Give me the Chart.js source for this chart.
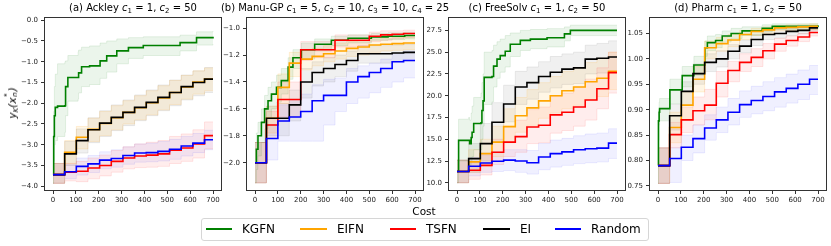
<!DOCTYPE html>
<html><head><meta charset="utf-8">
<script src="https://cdn.jsdelivr.net/npm/chart.js@4.4.1/dist/chart.umd.min.js"></script>
<style>
html,body{margin:0;padding:0;background:#fff;}
#wrap{position:relative;width:831px;height:246px;overflow:hidden;font-family:'DejaVu Sans',sans-serif;color:#000;}
canvas{position:absolute;}
.title{position:absolute;top:2px;font-size:10px;white-space:nowrap;transform:translateX(-50%);line-height:12px;}
.title sub,.ylab sub{font-size:7px;vertical-align:-2px;line-height:0;}
.ylab{position:absolute;left:12px;top:103px;transform:translate(-50%,-50%) rotate(-90deg);font-size:10.5px;font-style:italic;white-space:nowrap;line-height:12px;}
.ylab .ss{display:inline-block;position:relative;width:6px;height:10px;vertical-align:baseline;}
.ylab .ss span{position:absolute;left:0.5px;font-size:7px;line-height:7px;}
.xlab{position:absolute;left:424px;top:205px;transform:translateX(-50%);font-size:10.5px;line-height:12px;}
#legend{position:absolute;left:201px;top:218px;width:446px;height:21px;border:1px solid #d6d6d6;border-radius:3px;background:#fff;}
.sw{position:absolute;height:2px;top:228px;}
.lt{position:absolute;top:222px;font-size:12px;line-height:14px;}
</style></head>
<body>
<div id="wrap">
<canvas id="c0" width="222" height="199"></canvas>
<canvas id="c1" width="222" height="199"></canvas>
<canvas id="c2" width="222" height="199"></canvas>
<canvas id="c3" width="222" height="199"></canvas>
<div class="title" style="left:133px">(a) Ackley <i>c</i><sub>1</sub> = 1, <i>c</i><sub>2</sub> = 50</div>
<div class="title" style="left:335px">(b) Manu-GP <i>c</i><sub>1</sub> = 5, <i>c</i><sub>2</sub> = 10, <i>c</i><sub>3</sub> = 10, <i>c</i><sub>4</sub> = 25</div>
<div class="title" style="left:537px">(c) FreeSolv <i>c</i><sub>1</sub> = 1, <i>c</i><sub>2</sub> = 50</div>
<div class="title" style="left:738px">(d) Pharm <i>c</i><sub>1</sub> = 1, <i>c</i><sub>2</sub> = 50</div>
<div class="ylab">y<sub>K</sub>(x<span class="ss"><span style="top:-2px">*</span><span style="top:6px">n</span></span>)</div>
<div class="xlab">Cost</div>
<div id="legend"></div>
<div class="sw" style="left:206px;width:26px;background:green"></div><div class="lt" style="left:242px">KGFN</div>
<div class="sw" style="left:300px;width:27px;background:orange"></div><div class="lt" style="left:337px">EIFN</div>
<div class="sw" style="left:390px;width:26px;background:red"></div><div class="lt" style="left:426px">TSFN</div>
<div class="sw" style="left:483px;width:27px;background:black"></div><div class="lt" style="left:520px">EI</div>
<div class="sw" style="left:555px;width:26px;background:blue"></div><div class="lt" style="left:591px">Random</div>
</div>
<script>
// ---------- shared cost grids ----------
const COST_51 = [0,51,102,153,204,255,306,357,408,459,510,561,612,663,700];
const COST_50 = [0,50,100,150,200,250,300,350,400,450,500,550,600,650,700];
const X_TICKS = [0,100,200,300,400,500,600,700];

// ---------- (a) Ackley ----------
const ACK_KGFN_X  = [0,3,6,10,20,52,55,65,110,112,125,160,206,235,279,330,395,556,628,700];
const ACK_KGFN    = [-3.72,-2.8,-2.3,-2.1,-2.07,-2.06,-1.6,-1.38,-1.38,-1.27,-1.12,-1.1,-0.98,-0.86,-0.74,-0.66,-0.61,-0.54,-0.42,-0.40];
const ACK_KGFN_HI = [-3.45,-2.2,-1.6,-1.3,-1.05,-1.0,-0.98,-0.85,-0.76,-0.72,-0.65,-0.62,-0.55,-0.5,-0.45,-0.42,-0.4,-0.36,-0.28,-0.26];
const ACK_KGFN_LO = [-3.93,-3.4,-3.0,-2.9,-2.8,-2.7,-2.3,-1.95,-1.9,-1.75,-1.6,-1.55,-1.4,-1.25,-1.05,-0.92,-0.85,-0.74,-0.6,-0.58];
const ACK_EIFN    = [-3.72,-3.18,-2.82,-2.63,-2.49,-2.35,-2.22,-2.11,-1.99,-1.87,-1.74,-1.61,-1.49,-1.42,-1.42];
const ACK_EIFN_HI = [-3.45,-2.90,-2.56,-2.36,-2.20,-2.06,-1.94,-1.82,-1.70,-1.58,-1.45,-1.33,-1.22,-1.15,-1.15];
const ACK_EIFN_LO = [-3.93,-3.46,-3.10,-2.92,-2.78,-2.64,-2.50,-2.40,-2.28,-2.16,-2.03,-1.90,-1.78,-1.70,-1.70];
const ACK_TSFN    = [-3.72,-3.66,-3.64,-3.56,-3.50,-3.40,-3.32,-3.27,-3.25,-3.22,-3.13,-3.08,-2.98,-2.78,-2.78];
const ACK_TSFN_HI = [-3.45,-3.45,-3.40,-3.32,-3.25,-3.14,-3.05,-2.98,-2.94,-2.90,-2.80,-2.74,-2.64,-2.45,-2.45];
const ACK_TSFN_LO = [-3.93,-3.87,-3.89,-3.82,-3.75,-3.66,-3.58,-3.55,-3.54,-3.52,-3.45,-3.40,-3.32,-3.10,-3.10];
const ACK_EI      = [-3.72,-3.22,-2.90,-2.64,-2.48,-2.34,-2.22,-2.10,-1.98,-1.86,-1.74,-1.60,-1.50,-1.42,-1.42];
const ACK_EI_HI   = [-3.45,-2.92,-2.62,-2.35,-2.18,-2.04,-1.92,-1.80,-1.68,-1.56,-1.44,-1.32,-1.22,-1.14,-1.14];
const ACK_EI_LO   = [-3.93,-3.50,-3.20,-2.95,-2.80,-2.66,-2.54,-2.42,-2.30,-2.18,-2.06,-1.92,-1.82,-1.74,-1.74];
const ACK_RAND    = [-3.72,-3.65,-3.52,-3.46,-3.37,-3.33,-3.26,-3.20,-3.19,-3.16,-3.11,-3.03,-2.96,-2.88,-2.88];
const ACK_RAND_HI = [-3.45,-3.48,-3.32,-3.26,-3.17,-3.12,-3.05,-2.98,-2.96,-2.92,-2.87,-2.80,-2.73,-2.65,-2.65];
const ACK_RAND_LO = [-3.93,-3.82,-3.73,-3.67,-3.58,-3.54,-3.47,-3.42,-3.41,-3.39,-3.35,-3.27,-3.19,-3.12,-3.12];
const ACK_Y_TICKS = [-4.0,-3.5,-3.0,-2.5,-2.0,-1.5,-1.0,-0.5,0.0];

// ---------- (b) Manu-GP ----------
const MAN_KGFN_X  = [0,6,13,28,42,57,72,94,115,145,166,203,261,334,407,509,582,655,700];
const MAN_KGFN    = [-2.0,-1.9,-1.8,-1.7,-1.6,-1.54,-1.49,-1.44,-1.39,-1.29,-1.22,-1.16,-1.12,-1.09,-1.075,-1.065,-1.06,-1.055,-1.055];
const MAN_KGFN_HI = [-1.85,-1.78,-1.70,-1.6,-1.5,-1.44,-1.40,-1.35,-1.30,-1.22,-1.16,-1.11,-1.08,-1.06,-1.05,-1.04,-1.035,-1.03,-1.03];
const MAN_KGFN_LO = [-2.15,-2.05,-1.95,-1.85,-1.75,-1.67,-1.6,-1.55,-1.49,-1.38,-1.30,-1.23,-1.17,-1.13,-1.11,-1.09,-1.085,-1.08,-1.08];
const MAN_EIFN    = [-2.0,-1.67,-1.44,-1.26,-1.23,-1.21,-1.19,-1.17,-1.15,-1.14,-1.125,-1.12,-1.115,-1.11,-1.11];
const MAN_EIFN_HI = [-1.85,-1.58,-1.34,-1.18,-1.16,-1.15,-1.13,-1.11,-1.10,-1.09,-1.08,-1.075,-1.07,-1.065,-1.065];
const MAN_EIFN_LO = [-2.15,-1.78,-1.56,-1.36,-1.31,-1.28,-1.25,-1.23,-1.21,-1.2,-1.18,-1.17,-1.165,-1.16,-1.16];
const MAN_TSFN    = [-2.0,-1.72,-1.53,-1.53,-1.16,-1.16,-1.16,-1.09,-1.09,-1.09,-1.06,-1.05,-1.045,-1.04,-1.04];
const MAN_TSFN_HI = [-1.85,-1.62,-1.40,-1.40,-1.10,-1.10,-1.10,-1.05,-1.05,-1.05,-1.03,-1.02,-1.02,-1.015,-1.015];
const MAN_TSFN_LO = [-2.15,-1.82,-1.66,-1.66,-1.24,-1.22,-1.22,-1.14,-1.14,-1.13,-1.10,-1.09,-1.08,-1.07,-1.07];
const MAN_EI      = [-2.0,-1.67,-1.67,-1.57,-1.40,-1.33,-1.30,-1.27,-1.24,-1.19,-1.19,-1.19,-1.185,-1.18,-1.18];
const MAN_EI_HI   = [-1.85,-1.58,-1.56,-1.46,-1.30,-1.25,-1.22,-1.20,-1.17,-1.13,-1.13,-1.13,-1.125,-1.12,-1.12];
const MAN_EI_LO   = [-2.15,-1.80,-1.80,-1.69,-1.52,-1.43,-1.40,-1.36,-1.32,-1.26,-1.26,-1.26,-1.25,-1.245,-1.245];
const MAN_RAND    = [-2.0,-1.82,-1.69,-1.66,-1.62,-1.54,-1.50,-1.50,-1.40,-1.36,-1.33,-1.30,-1.25,-1.24,-1.24];
const MAN_RAND_HI = [-1.85,-1.72,-1.57,-1.53,-1.49,-1.42,-1.38,-1.37,-1.30,-1.28,-1.26,-1.23,-1.19,-1.17,-1.17];
const MAN_RAND_LO = [-2.15,-1.98,-1.84,-1.84,-1.84,-1.84,-1.72,-1.62,-1.56,-1.52,-1.48,-1.44,-1.40,-1.37,-1.37];
const MAN_Y_TICKS = [-2.0,-1.8,-1.6,-1.4,-1.2,-1.0];

// ---------- (c) FreeSolv ----------
const FS_KGFN_X  = [0,7,51,55,62,66,73,105,109,114,119,153,160,175,189,211,233,277,321,394,470,496,700];
const FS_KGFN    = [11.3,14.87,14.87,14.5,15.2,15.8,16.8,16.9,18.3,19.4,22.1,22.2,23.4,24.2,24.6,25.1,25.9,26.35,26.5,26.65,27.1,27.5,27.5];
const FS_KGFN_HI = [12.6,17.3,17.5,17.2,18.0,18.8,19.8,20.3,21.5,22.5,25.0,25.2,25.8,26.2,26.5,26.9,27.2,27.5,27.6,27.7,27.9,28.1,28.1];
const FS_KGFN_LO = [10.0,12.5,12.4,12.0,12.5,13.0,13.8,13.8,15.0,16.5,19.0,19.3,21.0,22.0,22.7,23.3,24.5,25.2,25.4,25.6,26.3,26.9,26.9];
const FS_EIFN    = [11.3,12.4,13.35,14.67,16.45,17.7,18.6,19.4,20.0,20.57,21.0,21.6,22.0,22.8,22.8];
const FS_EIFN_HI = [12.6,13.8,15.0,16.5,18.5,19.8,20.7,21.5,22.2,22.8,23.2,23.8,24.3,25.0,25.0];
const FS_EIFN_LO = [10.0,11.2,11.9,13.0,14.6,15.8,16.6,17.4,18.0,18.5,18.9,19.5,19.9,20.7,20.7];
const FS_TSFN    = [11.3,11.44,12.0,13.5,14.67,15.3,16.4,16.6,17.8,18.1,18.7,19.5,20.8,22.65,22.65];
const FS_TSFN_HI = [12.6,12.3,13.2,15.0,16.5,17.2,18.4,18.7,19.9,20.3,21.0,21.9,23.2,25.0,25.0];
const FS_TSFN_LO = [10.0,10.4,10.9,12.1,13.0,13.5,14.5,14.6,15.7,16.0,16.5,17.2,18.5,20.3,20.3];
const FS_EI      = [11.3,12.77,14.5,16.95,19.05,21.0,21.5,22.2,22.7,23.05,23.2,24.2,24.3,24.45,24.45];
const FS_EI_HI   = [12.6,14.5,16.8,19.2,21.2,22.8,23.3,23.9,24.5,24.8,25.0,25.8,26.0,26.3,26.3];
const FS_EI_LO   = [10.0,11.2,12.5,14.7,17.0,19.0,19.6,20.4,20.9,21.3,21.4,22.5,22.6,22.7,22.7];
const FS_RAND    = [11.3,11.9,12.27,12.47,12.6,12.5,12.3,12.96,13.35,13.55,13.8,13.9,13.98,14.55,14.55];
const FS_RAND_HI = [12.6,12.9,13.4,13.6,13.8,13.8,13.7,14.5,14.9,15.1,15.4,15.6,15.7,16.2,16.2];
const FS_RAND_LO = [10.0,10.8,11.2,11.3,11.4,11.2,11.0,11.5,11.8,12.0,12.2,12.3,12.4,12.8,12.8];
const FS_Y_TICKS = [10.0,12.5,15.0,17.5,20.0,22.5,25.0,27.5];

// ---------- (d) Pharm ----------
const PH_KGFN_X  = [0,2,5,7,52,106,157,205,216,252,281,320,368,456,500,700];
const PH_KGFN    = [0.79,0.878,0.895,0.902,0.939,0.967,0.988,1.022,1.032,1.036,1.045,1.05,1.055,1.06,1.064,1.066];
const PH_KGFN_HI = [0.825,0.9,0.915,0.922,0.96,0.985,1.005,1.035,1.045,1.048,1.055,1.06,1.063,1.067,1.069,1.07];
const PH_KGFN_LO = [0.755,0.84,0.87,0.878,0.912,0.945,0.968,1.005,1.016,1.022,1.033,1.04,1.046,1.053,1.058,1.061];
const PH_EIFN    = [0.79,0.865,0.909,0.96,1.022,1.03,1.037,1.048,1.054,1.057,1.061,1.062,1.063,1.064,1.064];
const PH_EIFN_HI = [0.825,0.895,0.935,0.985,1.035,1.042,1.048,1.056,1.06,1.063,1.066,1.067,1.068,1.069,1.069];
const PH_EIFN_LO = [0.755,0.835,0.88,0.935,1.0,1.015,1.024,1.038,1.046,1.05,1.055,1.056,1.057,1.058,1.058];
const PH_TSFN    = [0.79,0.851,0.88,0.898,0.909,0.952,0.977,0.993,1.003,1.016,1.029,1.036,1.043,1.052,1.052];
const PH_TSFN_HI = [0.825,0.875,0.905,0.925,0.94,0.975,0.995,1.01,1.02,1.03,1.04,1.045,1.05,1.058,1.058];
const PH_TSFN_LO = [0.755,0.825,0.855,0.87,0.88,0.925,0.955,0.975,0.985,1.0,1.015,1.025,1.034,1.045,1.045];
const PH_EI      = [0.79,0.888,0.936,0.971,0.993,1.0,1.015,1.025,1.038,1.048,1.05,1.054,1.056,1.061,1.061];
const PH_EI_HI   = [0.825,0.91,0.955,0.99,1.01,1.016,1.028,1.037,1.048,1.056,1.058,1.06,1.062,1.066,1.066];
const PH_EI_LO   = [0.755,0.86,0.91,0.95,0.975,0.984,1.0,1.012,1.026,1.038,1.041,1.046,1.049,1.055,1.055];
const PH_RAND    = [0.79,0.804,0.826,0.843,0.864,0.88,0.895,0.91,0.918,0.926,0.935,0.942,0.95,0.96,0.96];
const PH_RAND_HI = [0.825,0.825,0.85,0.87,0.89,0.905,0.922,0.937,0.946,0.955,0.963,0.97,0.978,0.987,0.987];
const PH_RAND_LO = [0.755,0.757,0.8,0.815,0.84,0.855,0.87,0.885,0.892,0.898,0.905,0.913,0.92,0.93,0.93];
const PH_Y_TICKS = [0.75,0.80,0.85,0.90,0.95,1.00,1.05];

// ---------- styling ----------
const METHODS = ['KGFN','EIFN','TSFN','EI','Random'];
const COLORS = {KGFN:'#008000', EIFN:'#FFA500', TSFN:'#FF0000', EI:'#000000', Random:'#0000FF'};
const BANDS  = {KGFN:'rgba(0,128,0,0.08)', EIFN:'rgba(255,165,0,0.10)', TSFN:'rgba(255,0,0,0.07)', EI:'rgba(0,0,0,0.06)', Random:'rgba(0,0,255,0.06)'};
const BANDEDGE = {KGFN:'rgba(0,128,0,0.10)', EIFN:'rgba(255,165,0,0.14)', TSFN:'rgba(255,0,0,0.10)', EI:'rgba(0,0,0,0.08)', Random:'rgba(0,0,255,0.08)'};

const Y_AXIS_W = 40, X_AXIS_H = 20, PAD_T = 6, PAD_R = 6, PLOT_W = 176, PLOT_T = 17;
const SPINE_LEFT = [45, 247, 449, 650];

const PANELS = [
  {yMin:-4.09, yMax:0.048, ticks:ACK_Y_TICKS, dec:1, series:[
    [ACK_KGFN_X, ACK_KGFN, ACK_KGFN_HI, ACK_KGFN_LO],
    [COST_51, ACK_EIFN, ACK_EIFN_HI, ACK_EIFN_LO],
    [COST_51, ACK_TSFN, ACK_TSFN_HI, ACK_TSFN_LO],
    [COST_51, ACK_EI, ACK_EI_HI, ACK_EI_LO],
    [COST_51, ACK_RAND, ACK_RAND_HI, ACK_RAND_LO]]},
  {yMin:-2.203, yMax:-0.926, ticks:MAN_Y_TICKS, dec:1, series:[
    [MAN_KGFN_X, MAN_KGFN, MAN_KGFN_HI, MAN_KGFN_LO],
    [COST_50, MAN_EIFN, MAN_EIFN_HI, MAN_EIFN_LO],
    [COST_50, MAN_TSFN, MAN_TSFN_HI, MAN_TSFN_LO],
    [COST_50, MAN_EI, MAN_EI_HI, MAN_EI_LO],
    [COST_50, MAN_RAND, MAN_RAND_HI, MAN_RAND_LO]]},
  {yMin:9.17, yMax:28.9, ticks:FS_Y_TICKS, dec:1, series:[
    [FS_KGFN_X, FS_KGFN, FS_KGFN_HI, FS_KGFN_LO],
    [COST_51, FS_EIFN, FS_EIFN_HI, FS_EIFN_LO],
    [COST_51, FS_TSFN, FS_TSFN_HI, FS_TSFN_LO],
    [COST_51, FS_EI, FS_EI_HI, FS_EI_LO],
    [COST_51, FS_RAND, FS_RAND_HI, FS_RAND_LO]]},
  {yMin:0.742, yMax:1.080, ticks:PH_Y_TICKS, dec:2, series:[
    [PH_KGFN_X, PH_KGFN, PH_KGFN_HI, PH_KGFN_LO],
    [COST_51, PH_EIFN, PH_EIFN_HI, PH_EIFN_LO],
    [COST_51, PH_TSFN, PH_TSFN_HI, PH_TSFN_LO],
    [COST_51, PH_EI, PH_EI_HI, PH_EI_LO],
    [COST_51, PH_RAND, PH_RAND_HI, PH_RAND_LO]]}
];

const pts = (xs, ys) => xs.map((x, i) => ({x, y: ys[i]}));

const framePlugin = {
  id: 'frame',
  afterDraw(chart) {
    const {ctx, chartArea: a} = chart;
    ctx.save();
    ctx.strokeStyle = '#333';
    ctx.lineWidth = 1;
    ctx.strokeRect(Math.round(a.left) - 0.5, Math.round(a.top) - 0.5, Math.round(a.right - a.left) + 1, Math.round(a.bottom - a.top) + 1);
    ctx.restore();
  }
};

PANELS.forEach((p, k) => {
  const cv = document.getElementById('c' + k);
  cv.style.left = (SPINE_LEFT[k] - Y_AXIS_W) + 'px';
  cv.style.top = (PLOT_T - PAD_T) + 'px';
  cv.width = Y_AXIS_W + PLOT_W + PAD_R;
  cv.height = PAD_T + 173 + X_AXIS_H;
  const datasets = [];
  p.series.forEach((s, i) => {
    const m = METHODS[i];
    datasets.push({label: m + ' upper', data: pts(s[0], s[2]), stepped: true, pointRadius: 0,
      borderColor: BANDEDGE[m], borderWidth: 1, backgroundColor: BANDS[m], fill: '+1', order: 100});
    datasets.push({label: m + ' lower', data: pts(s[0], s[3]), stepped: true, pointRadius: 0,
      borderColor: BANDEDGE[m], borderWidth: 1, fill: false, order: 100});
  });
  p.series.forEach((s, i) => {
    const m = METHODS[i];
    datasets.push({label: m, data: pts(s[0], s[1]), stepped: true, pointRadius: 0,
      borderColor: COLORS[m], borderWidth: 1.6, fill: false, order: 10 - i});
  });
  new Chart(cv, {
    type: 'line',
    data: {datasets},
    plugins: [framePlugin],
    options: {
      responsive: false, animation: false, devicePixelRatio: 1,
      layout: {padding: {top: PAD_T, right: PAD_R, left: 0, bottom: 0}},
      plugins: {legend: {display: false}, tooltip: {enabled: false}, filler: {drawTime: 'beforeDatasetsDraw'}},
      scales: {
        x: {type: 'linear', min: -35, max: 735,
          afterBuildTicks: s => { s.ticks = X_TICKS.map(v => ({value: v})); },
          afterFit: s => { s.height = X_AXIS_H; },
          grid: {drawOnChartArea: false, drawTicks: true, tickLength: 4, color: '#333'},
          border: {display: false},
          ticks: {font: {family: 'DejaVu Sans', size: 7}, color: '#222', padding: 2, maxRotation: 0,
            callback: v => String(v)}},
        y: {type: 'linear', min: p.yMin, max: p.yMax,
          afterBuildTicks: s => { s.ticks = p.ticks.map(v => ({value: v})); },
          afterFit: s => { s.width = Y_AXIS_W; },
          grid: {drawOnChartArea: false, drawTicks: true, tickLength: 4, color: '#333'},
          border: {display: false},
          ticks: {font: {family: 'DejaVu Sans', size: 7}, color: '#222', padding: 3,
            callback: v => v.toFixed(p.dec).replace('-', '\u2212')}}
      }
    }
  });
});
</script>
</body></html>
